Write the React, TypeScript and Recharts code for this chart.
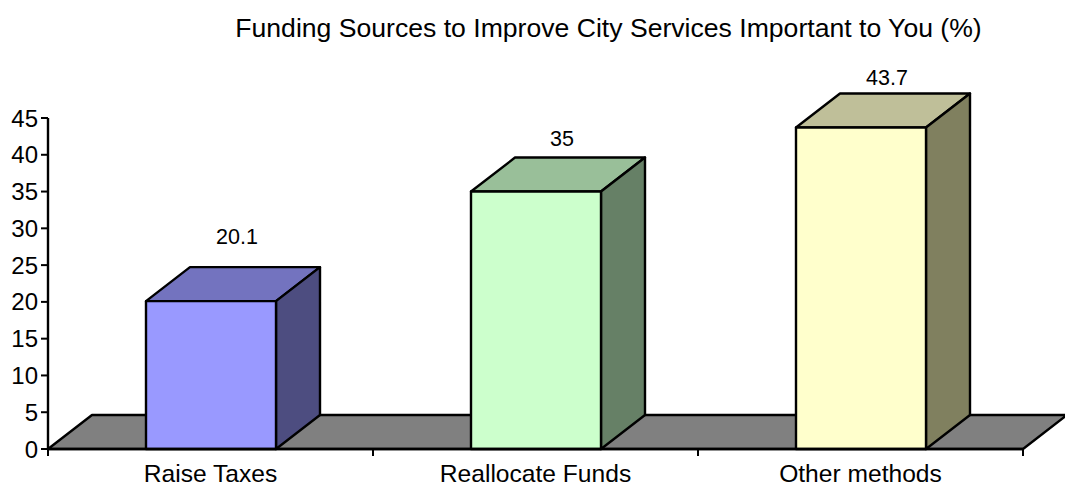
import React from 'react';
import { BarChart, Bar, XAxis, YAxis, LabelList, usePlotArea } from 'recharts';

const categories = ['Raise Taxes', 'Reallocate Funds', 'Other methods'];
const values = [20.1, 35, 43.7];
const yTicks = [0, 5, 10, 15, 20, 25, 30, 35, 40, 45];
const chartTitle = 'Funding Sources to Improve City Services Important to You (%)';

const frontColors = ['#9999ff', '#ccffcc', '#ffffcc'];
const topColors = ['#7373bf', '#99bf99', '#bfbf99'];
const sideColors = ['#4d4d80', '#668066', '#80805f'];

const rows = categories.map((name, i) => ({ name, value: values[i] }));

const DEPTH_X = 44;
const DEPTH_Y = 34;
const LINE = 2.4;
const FONT = '"Liberation Sans", Arial, sans-serif';
// gap between the top of the front face and the label, differs per bar in the original
const labelLift = [64, 53, 50];

const Bar3D = (props: any) => {
    const { x, y, width, height, index } = props;
    const r = x + width;
    const b = y + height;
    const line = { stroke: '#000', strokeWidth: LINE, strokeLinejoin: 'round' as const };
    return (
        <g>
            <path d={`M${x},${y}L${x + DEPTH_X},${y - DEPTH_Y}H${r + DEPTH_X}L${r},${y}Z`} fill={topColors[index]} {...line} />
            <path d={`M${r},${y}L${r + DEPTH_X},${y - DEPTH_Y}V${b - DEPTH_Y}L${r},${b}Z`} fill={sideColors[index]} {...line} />
            <rect x={x} y={y} width={width} height={height} fill={frontColors[index]} {...line} />
        </g>
    );
};

const Floor = () => {
    const plot = usePlotArea();
    if (!plot) return null;
    const b = plot.y + plot.height;
    const r = plot.x + plot.width;
    return (
        <path
            d={`M${plot.x},${b}L${plot.x + DEPTH_X},${b - DEPTH_Y}H${r + DEPTH_X}L${r},${b}Z`}
            fill="#808080"
            stroke="#000"
            strokeWidth={LINE}
            strokeLinejoin="round"
        />
    );
};

// the original puts its category ticks between the bars, not under them
const BoundaryTicks = () => {
    const plot = usePlotArea();
    if (!plot) return null;
    const b = plot.y + plot.height;
    const step = plot.width / categories.length;
    return (
        <g>
            {[0, 1, 2, 3].map((i) => (
                <line key={i} x1={plot.x + i * step} x2={plot.x + i * step} y1={b} y2={b + 7} stroke="#000" strokeWidth={2} />
            ))}
        </g>
    );
};

const ValueLabel = (props: any) => {
    const { x, y, width, value, index } = props;
    return (
        <text x={x + width / 2 + 26} y={y - labelLift[index] + 7} textAnchor="middle" fontSize={21.5} fontFamily={FONT} fill="#000">
            {value}
        </text>
    );
};

export default function App() {
    return (
        <div style={{ position: 'absolute', left: 0, top: 0, width: 1065, height: 487 }}>
            <BarChart
                width={1065}
                height={487}
                data={rows}
                margin={{ top: 118, right: 42, bottom: 0, left: 0 }}
                style={{ fontFamily: FONT }}
            >
                <Floor />
                <XAxis
                    dataKey="name"
                    height={38}
                    tickLine={false}
                    tickMargin={10}
                    axisLine={{ stroke: '#000', strokeWidth: LINE }}
                    tick={{ fill: '#000', fontSize: 24.6, fontFamily: FONT }}
                    interval={0}
                />
                <YAxis
                    width={48}
                    domain={[0, 45]}
                    ticks={yTicks}
                    interval={0}
                    tickSize={7}
                    tickMargin={3}
                    axisLine={{ stroke: '#000', strokeWidth: LINE }}
                    tickLine={{ stroke: '#000', strokeWidth: 2 }}
                    tick={{ fill: '#000', fontSize: 24, fontFamily: FONT }}
                />
                <Bar dataKey="value" barSize={130} shape={Bar3D} isAnimationActive={false}>
                    <LabelList dataKey="value" content={ValueLabel} />
                </Bar>
                <BoundaryTicks />
                <text x={608.5} y={37} textAnchor="middle" fontSize={26.6} fontFamily={FONT} fill="#000">
                    {chartTitle}
                </text>
            </BarChart>
        </div>
    );
}
